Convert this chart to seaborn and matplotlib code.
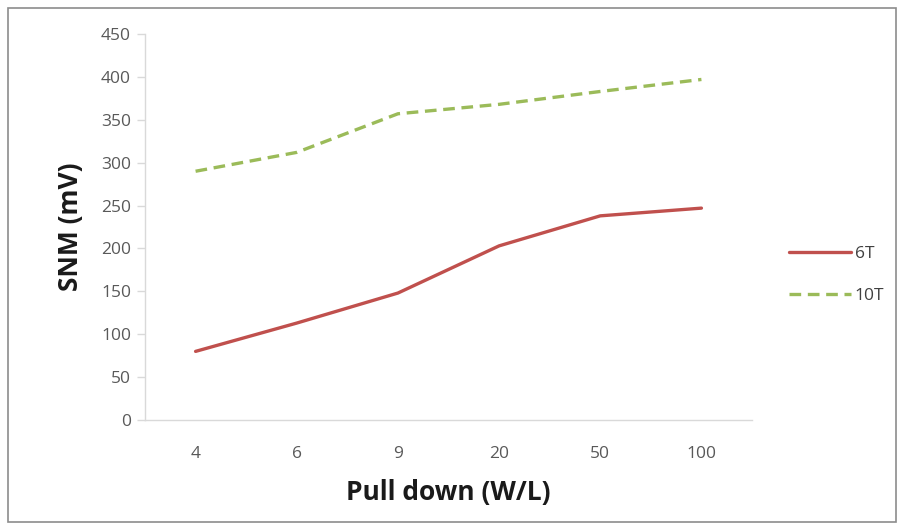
import matplotlib
matplotlib.use("Agg")
import matplotlib.pyplot as plt
import seaborn as sns
import pandas as pd
from matplotlib.patches import Rectangle

# Static noise margin vs pull-down transistor sizing
categories = ["4", "6", "9", "20", "50", "100"]
snm_6t = [80, 113, 148, 203, 238, 247]
snm_10t = [290, 312, 357, 368, 383, 397]
y_ticks = [0, 50, 100, 150, 200, 250, 300, 350, 400, 450]

df = pd.DataFrame({
    "W/L": categories * 2,
    "SNM": snm_6t + snm_10t,
    "Cell": ["6T"] * len(categories) + ["10T"] * len(categories),
})

sns.set_theme(style="white")
plt.rcParams["font.family"] = ["Open Sans", "DejaVu Sans"]

fig = plt.figure(figsize=(9.04, 5.30), dpi=100)
ax = fig.add_axes([145 / 904, 1 - 420 / 530, (752 - 145) / 904, (420 - 34) / 530])

palette = {"6T": "#c0504d", "10T": "#9bbb59"}
sns.lineplot(data=df, x="W/L", y="SNM", hue="Cell", style="Cell",
             palette=palette, dashes={"6T": "", "10T": (3.5, 2)},
             linewidth=2.4, sort=False, ax=ax)

ax.set_xlim(-0.5, len(categories) - 0.5)
ax.set_ylim(0, 450)
ax.set_yticks(y_ticks)
ax.set_xticks(range(len(categories)))
ax.set_xticklabels(categories)

for side in ("top", "right"):
    ax.spines[side].set_visible(False)
for side in ("left", "bottom"):
    ax.spines[side].set_color("#d9d9d9")
    ax.spines[side].set_linewidth(1.0)

ax.tick_params(axis="y", which="both", left=True, length=6, width=1,
               color="#d9d9d9", labelsize=12.5, labelcolor="#595959", pad=4)
ax.tick_params(axis="x", which="both", bottom=False, labelsize=12.5,
               labelcolor="#595959", pad=13)

ax.set_xlabel("Pull down (W/L)", fontsize=19, fontweight="bold", labelpad=12,
              color="#1a1a1a")
ax.set_ylabel("SNM (mV)", fontsize=19, fontweight="bold", labelpad=12,
              color="#1a1a1a")

leg = ax.legend(title=None, frameon=False, loc="center left",
                bbox_to_anchor=(1.035, 0.375), fontsize=12.5,
                handlelength=3.6, labelspacing=1.5, handletextpad=0.2)
for t in leg.get_texts():
    t.set_color("#404040")

fig.patches.append(Rectangle((8 / 904, 8 / 530), 888 / 904, 514 / 530,
                             transform=fig.transFigure, fill=False,
                             edgecolor="#8c8c8c", linewidth=1.2))

fig.savefig("out.png", dpi=100)
